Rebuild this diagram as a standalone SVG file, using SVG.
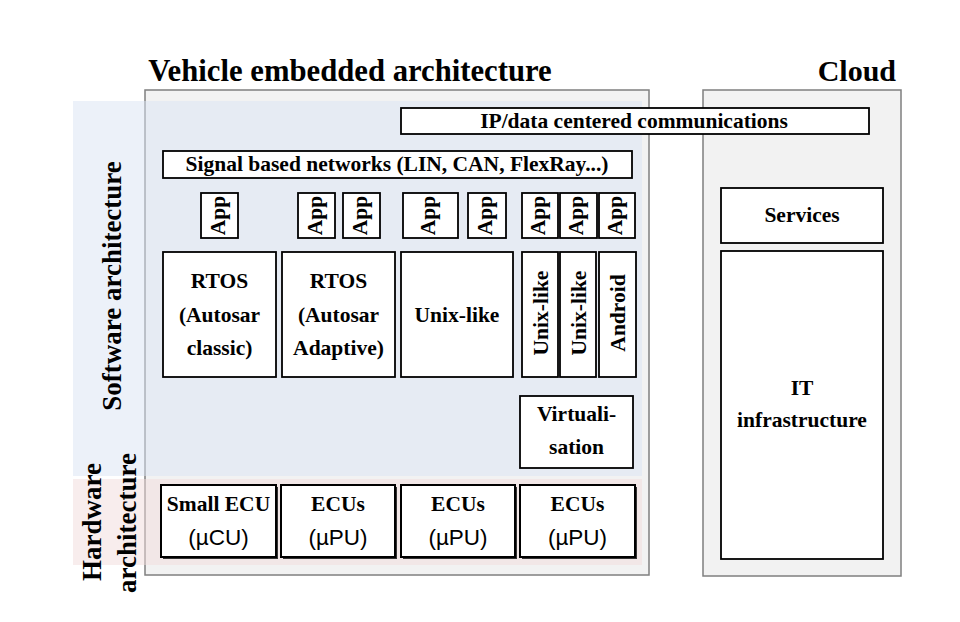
<svg xmlns="http://www.w3.org/2000/svg" width="960" height="622" viewBox="0 0 960 622">
<style>
.t{font-family:"Liberation Serif","Times New Roman",serif;font-weight:bold;fill:#000;text-anchor:middle}
.s{font-family:"Liberation Sans",Arial,sans-serif;fill:#000;text-anchor:middle}
.f21{font-size:21.5px}
.f20{font-size:21.5px}
.fs{font-size:22.5px}
.side{font-size:27px}
.box{fill:#fff;stroke:#000;stroke-width:1.8}
.ecu{fill:#fff;stroke:#000;stroke-width:2}
.shadow{fill:#333}
.container{fill:#f2f2f2;stroke:#7f7f7f;stroke-width:1.5}
</style>
<rect width="960" height="622" fill="#fff"/>
<g id="vehicle-container">
<rect class="container" x="145" y="90" width="504" height="485"/>
<text class="t" x="350" y="81" style="font-size:30.7px">Vehicle embedded architecture</text>
</g>
<g id="cloud-container">
<rect class="container" x="703" y="90" width="198" height="486"/>
<text class="t" x="896" y="81" style="font-size:30px;text-anchor:end">Cloud</text>
</g>
<g id="software-band">
<rect x="73" y="101" width="569" height="375" fill="#dae3f3" fill-opacity="0.5"/>
<text class="t side" transform="translate(121,286) rotate(-90)">Software architecture</text>
</g>
<g id="hardware-band">
<rect x="73" y="479" width="569" height="86" fill="#f2dcdb" fill-opacity="0.5"/>
<text class="t side" transform="translate(101,522) rotate(-90)">Hardware</text>
<text class="t side" transform="translate(136,523) rotate(-90)">architecture</text>
</g>
<g id="ip-data">
<rect class="box" x="401" y="108" width="468" height="26"/>
<text class="t f20" x="634" y="127.5">IP/data centered communications</text>
</g>
<g id="signal-networks">
<rect class="box" x="163" y="151" width="469" height="27"/>
<text class="t f20" x="397" y="170.5">Signal based networks (LIN, CAN, FlexRay...)</text>
</g>
<g id="app1"><rect class="box" x="201" y="193" width="37" height="45"/><text class="t f20" transform="translate(224.5,215.5) rotate(-90)">App</text></g>
<g id="app2"><rect class="box" x="298" y="193" width="37" height="45"/><text class="t f20" transform="translate(321.5,215.5) rotate(-90)">App</text></g>
<g id="app3"><rect class="box" x="343" y="193" width="37" height="45"/><text class="t f20" transform="translate(366.5,215.5) rotate(-90)">App</text></g>
<g id="app4"><rect class="box" x="403" y="193" width="55" height="45"/><text class="t f20" transform="translate(435,215.5) rotate(-90)">App</text></g>
<g id="app5"><rect class="box" x="468" y="193" width="38" height="45"/><text class="t f20" transform="translate(491.5,215.5) rotate(-90)">App</text></g>
<g id="app6"><rect class="box" x="522" y="193" width="36" height="45"/><text class="t f20" transform="translate(544.5,215.5) rotate(-90)">App</text></g>
<g id="app7"><rect class="box" x="560" y="193" width="37" height="45"/><text class="t f20" transform="translate(583,215.5) rotate(-90)">App</text></g>
<g id="app8"><rect class="box" x="599" y="193" width="36" height="45"/><text class="t f20" transform="translate(621.5,215.5) rotate(-90)">App</text></g>
<g id="rtos-classic">
<rect class="box" x="163" y="252" width="113" height="125"/>
<text class="t f20" x="219.5" y="288">RTOS</text>
<text class="t f20" x="219.5" y="322">(Autosar</text>
<text class="t f20" x="219.5" y="355">classic)</text>
</g>
<g id="rtos-adaptive">
<rect class="box" x="282" y="252" width="113" height="125"/>
<text class="t f20" x="338.5" y="288">RTOS</text>
<text class="t f20" x="338.5" y="322">(Autosar</text>
<text class="t f20" x="338.5" y="355">Adaptive)</text>
</g>
<g id="unix-like">
<rect class="box" x="401" y="252" width="112" height="125"/>
<text class="t f20" x="457" y="322">Unix-like</text>
</g>
<g id="unix-like-vm1">
<rect class="box" x="522" y="252" width="36" height="125"/>
<text class="t f20" transform="translate(547.5,313) rotate(-90)">Unix-like</text>
</g>
<g id="unix-like-vm2">
<rect class="box" x="560" y="252" width="36" height="125"/>
<text class="t f20" transform="translate(585.5,313) rotate(-90)">Unix-like</text>
</g>
<g id="android">
<rect class="box" x="599" y="252" width="37" height="125"/>
<text class="t f20" transform="translate(625,313) rotate(-90)">Android</text>
</g>
<g id="virtualisation">
<rect class="box" x="520" y="396" width="113" height="72"/>
<text class="t f20" x="576.5" y="421">Virtuali-</text>
<text class="t f20" x="576.5" y="454">sation</text>
</g>
<g id="small-ecu">
<rect class="shadow" x="163" y="487" width="115" height="72"/>
<rect class="ecu" x="161" y="485" width="115" height="72"/>
<text class="t f21" x="218.5" y="511">Small ECU</text>
<text class="s fs" x="218.5" y="545">(µCU)</text>
</g>
<g id="ecu2">
<rect class="shadow" x="283" y="487" width="114" height="72"/>
<rect class="ecu" x="281" y="485" width="114" height="72"/>
<text class="t f21" x="338" y="511">ECUs</text>
<text class="s fs" x="338" y="545">(µPU)</text>
</g>
<g id="ecu3">
<rect class="shadow" x="403" y="487" width="114" height="72"/>
<rect class="ecu" x="401" y="485" width="114" height="72"/>
<text class="t f21" x="458" y="511">ECUs</text>
<text class="s fs" x="458" y="545">(µPU)</text>
</g>
<g id="ecu4">
<rect class="shadow" x="522" y="487" width="115" height="72"/>
<rect class="ecu" x="520" y="485" width="115" height="72"/>
<text class="t f21" x="577.5" y="511">ECUs</text>
<text class="s fs" x="577.5" y="545">(µPU)</text>
</g>
<g id="services">
<rect class="box" x="721" y="188" width="162" height="55"/>
<text class="t f20" x="802" y="222">Services</text>
</g>
<g id="it-infrastructure">
<rect class="box" x="721" y="251" width="162" height="308"/>
<text class="t f20" x="802" y="395">IT</text>
<text class="t f20" x="802" y="427">infrastructure</text>
</g>
<g id="connectors"></g>
</svg>
